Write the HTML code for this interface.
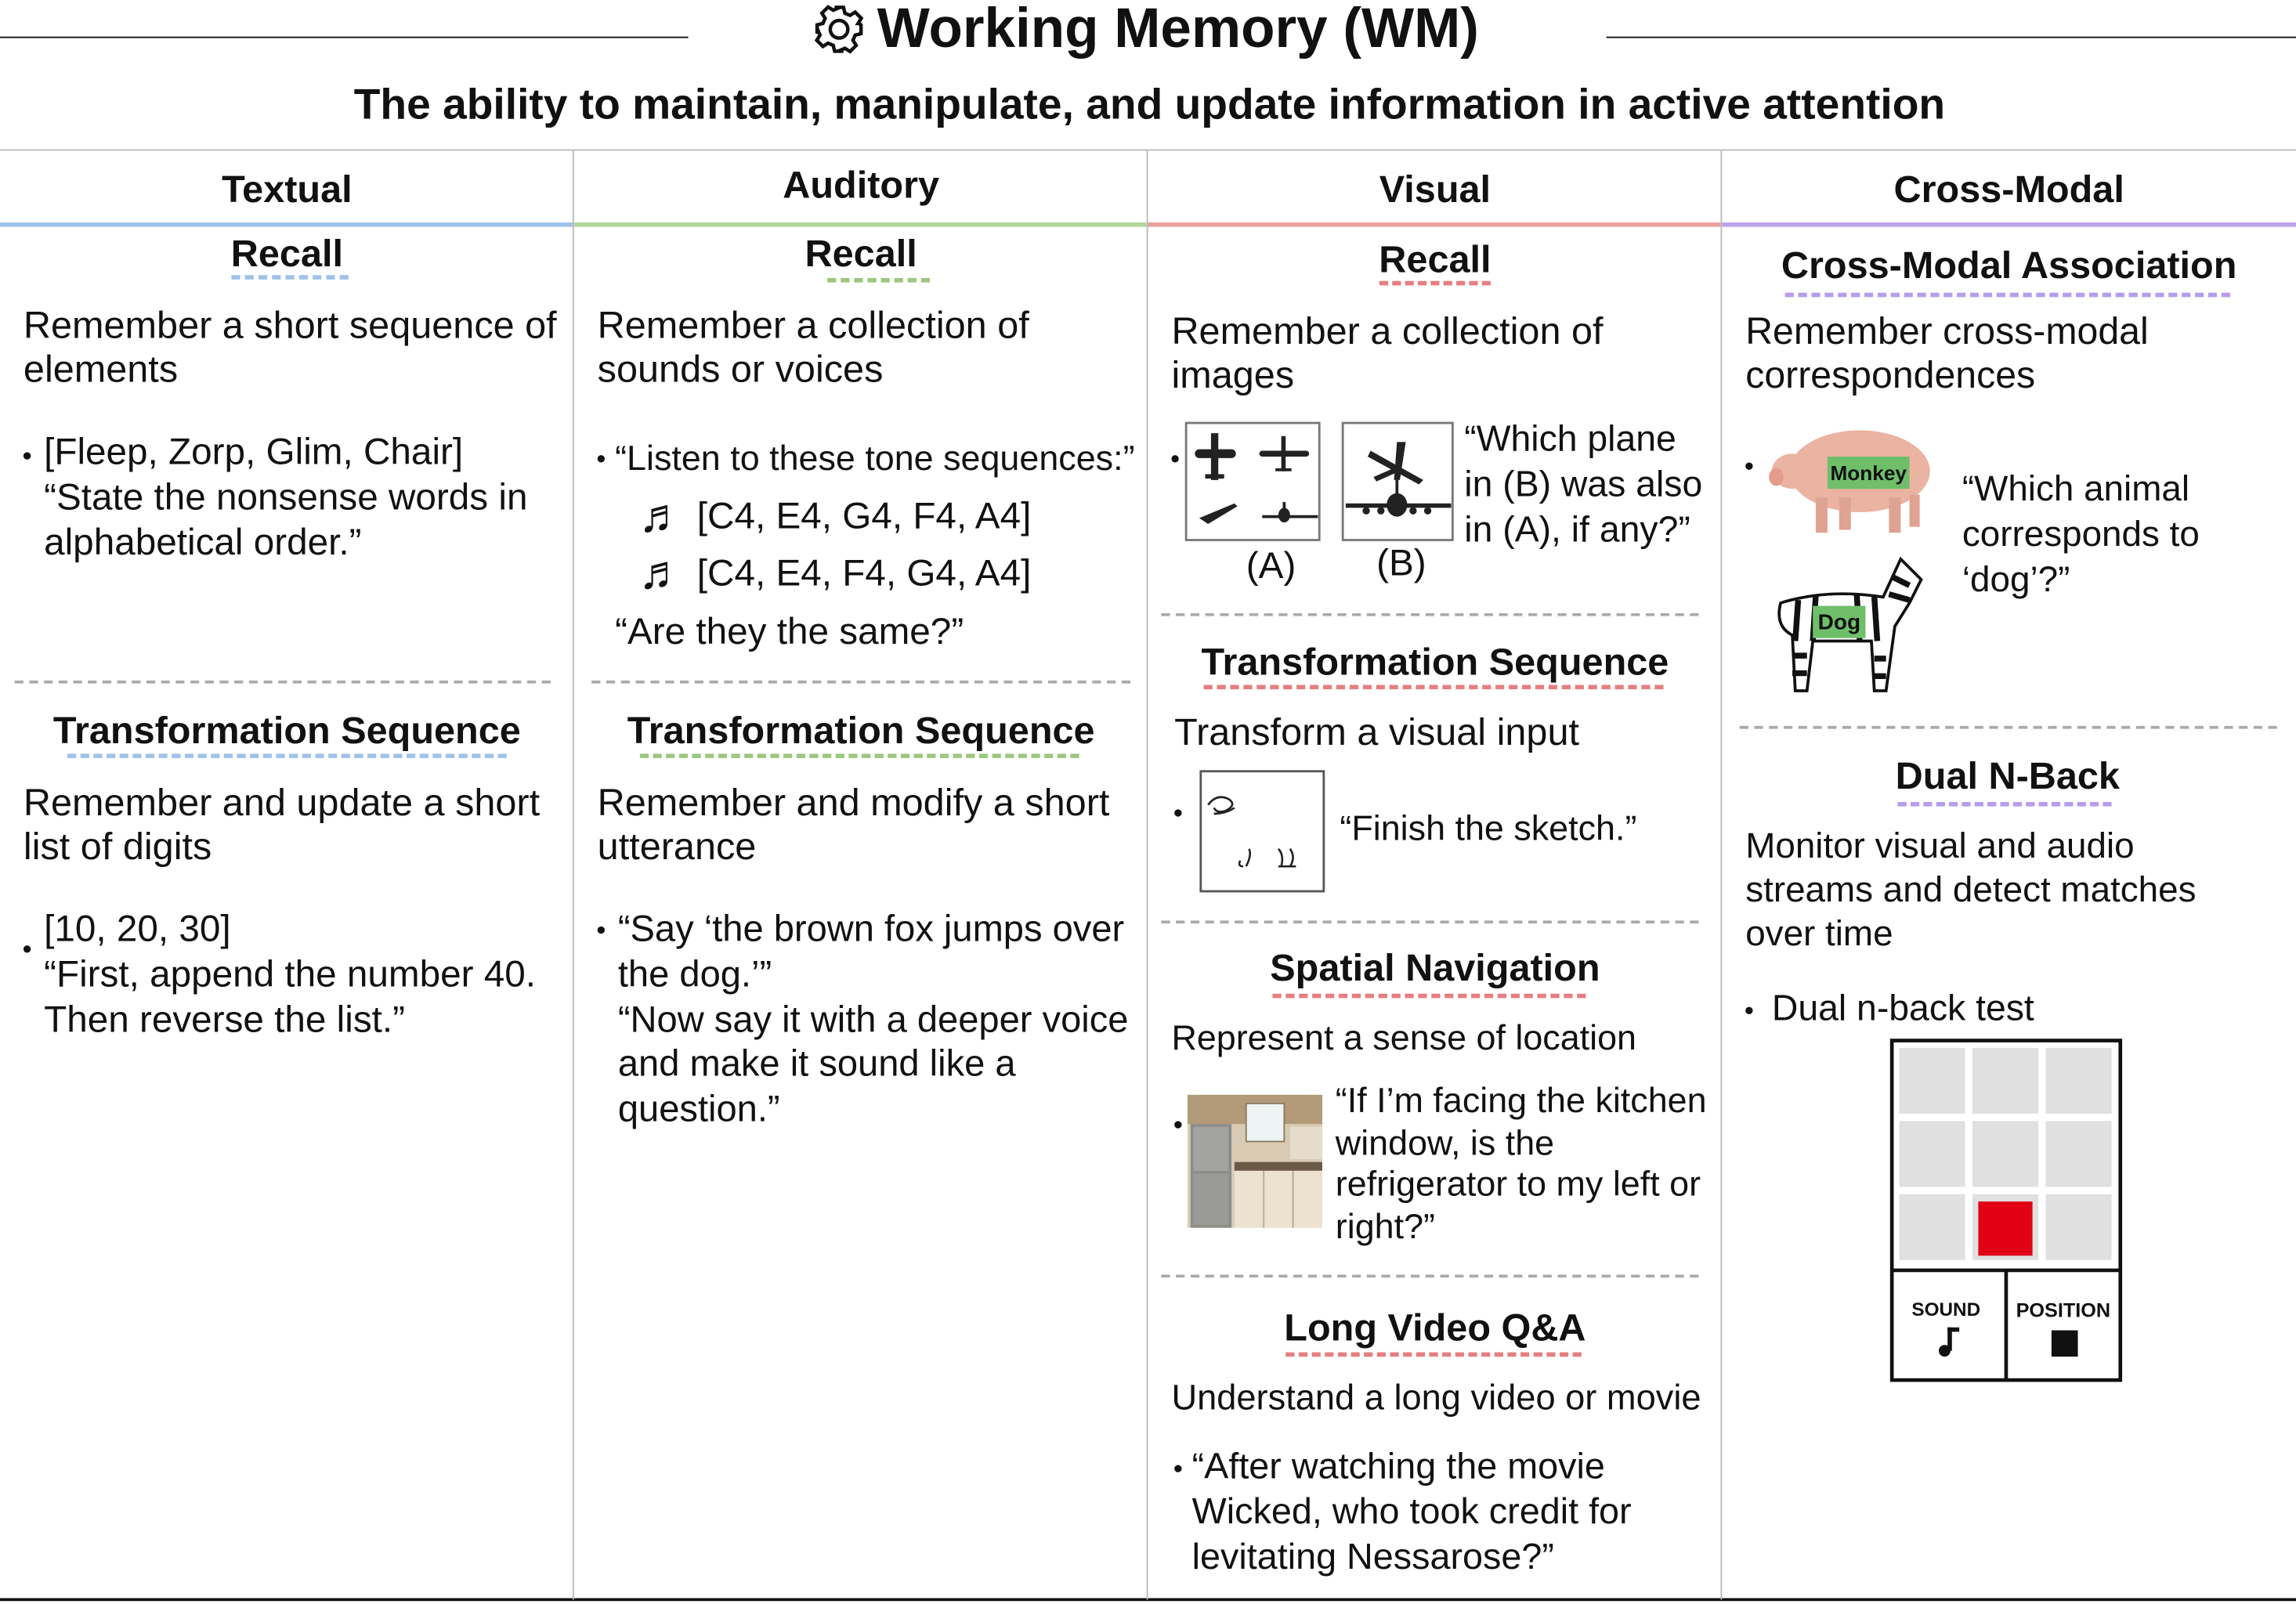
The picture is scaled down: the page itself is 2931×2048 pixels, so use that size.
<!DOCTYPE html>
<html><head><meta charset="utf-8"><style>
html,body{margin:0;padding:0;background:#fff;overflow:hidden}
#root{position:absolute;left:0;top:0;width:1568px;height:1096px;transform:scale(1.8693,1.8686);transform-origin:0 0;font-family:"Liberation Sans",Arial,sans-serif;color:#111}
.a{position:absolute;white-space:nowrap}
.t{font-size:25.5px;line-height:30px}
.h{font-size:26px;font-weight:bold;line-height:30px;transform:translateX(-50%)}
.s{font-size:26px;font-weight:bold;line-height:28px;transform:translateX(-50%)}
.hl{position:absolute;height:0}
.vl{position:absolute;width:0;border-left:1.5px solid #bbb}
.dot{position:absolute;width:5px;height:5px;border-radius:50%;background:#111}
</style></head><body>
<div id="root">
<div class="hl" style="left:0;top:25px;width:470px;border-top:1.5px solid #111"></div>
<div class="hl" style="left:1097px;top:25px;width:471px;border-top:1.5px solid #111"></div>
<svg class="a" style="left:555px;top:2px" width="36" height="36" viewBox="0 0 36 36"><g fill="none" stroke="#111" stroke-width="2.4"><circle cx="18" cy="18" r="6"/><path d="M33 15v6l-4 1-1.5 3.5 2.2 3.5-4.2 4.2-3.5-2.2L18.5 32.5 21 33h-6l-1-4-3.5-1.5-3.5 2.2-4.2-4.2 2.2-3.5L3.5 18.5 3 21v-6l4-1 1.5-3.5-2.2-3.5 4.2-4.2 3.5 2.2L17.5 3.5 15 3h6l1 4 3.5 1.5 3.5-2.2 4.2 4.2-2.2 3.5L31.5 14z"/></g></svg>
<div class="a" style="left:599px;top:-1px;font-size:38px;font-weight:bold;line-height:42px">Working Memory (WM)</div>
<div class="a" style="left:785px;top:55px;font-size:29.5px;font-weight:bold;line-height:34px;transform:translateX(-50%)">The ability to maintain, manipulate, and update information in active attention</div>
<div class="hl" style="left:0;top:102px;width:1568px;border-top:1.5px solid #bbb"></div>
<div class="hl" style="left:0;top:1092px;width:1568px;border-top:2px solid #111"></div>
<div class="vl" style="left:391px;top:103px;height:990px"></div>
<div class="vl" style="left:783px;top:103px;height:990px"></div>
<div class="vl" style="left:1175px;top:103px;height:990px"></div>
<div class="a h" style="left:196px;top:114px">Textual</div>
<div class="a h" style="left:588px;top:111px">Auditory</div>
<div class="a h" style="left:980px;top:114px">Visual</div>
<div class="a h" style="left:1372px;top:114px">Cross-Modal</div>
<div class="hl" style="left:0;top:152px;width:391px;border-top:3px solid #9fc2e9"></div>
<div class="hl" style="left:392px;top:152px;width:391px;border-top:3px solid #b3d69a"></div>
<div class="hl" style="left:784px;top:152px;width:391px;border-top:3px solid #eba0a0"></div>
<div class="hl" style="left:1176px;top:152px;width:392px;border-top:3px solid #bba3ec"></div>

<!-- Column 1 -->
<div class="a s" style="left:196px;top:159px">Recall</div>
<div class="hl" style="left:158px;top:188px;width:80px;border-top:3px dashed #9fc2e9"></div>
<div class="a t" style="left:16px;top:207px;font-size:26px">Remember a short sequence of<br>elements</div>
<div class="dot" style="left:16px;top:309px"></div>
<div class="a t" style="left:30px;top:294px;line-height:31px">[Fleep, Zorp, Glim, Chair]<br>“State the nonsense words in<br>alphabetical order.”</div>
<div class="hl" style="left:10px;top:465px;width:366px;border-top:2px dashed #aaa"></div>
<div class="a s" style="left:196px;top:485px">Transformation Sequence</div>
<div class="hl" style="left:46px;top:515px;width:300px;border-top:3px dashed #9fc2e9"></div>
<div class="a t" style="left:16px;top:533px;font-size:26px">Remember and update a short<br>list of digits</div>
<div class="dot" style="left:16px;top:646px"></div>
<div class="a t" style="left:30px;top:620px;line-height:31px">[10, 20, 30]<br>“First, append the number 40.<br>Then reverse the list.”</div>

<!-- Column 2 -->
<div class="a s" style="left:588px;top:159px">Recall</div>
<div class="hl" style="left:565px;top:190px;width:70px;border-top:3px dashed #9cc77d"></div>
<div class="a t" style="left:408px;top:207px;font-size:26px">Remember a collection of<br>sounds or voices</div>
<div class="dot" style="left:408px;top:311px"></div>
<div class="a t" style="left:420px;top:299px;font-size:24px">“Listen to these tone sequences:”</div>
<div class="a t" style="left:436px;top:338px"><span style="font-size:32px;font-weight:bold;display:inline-block;width:40px;line-height:28px;vertical-align:top">♬</span>[C4, E4, G4, F4, A4]</div>
<div class="a t" style="left:436px;top:377px"><span style="font-size:32px;font-weight:bold;display:inline-block;width:40px;line-height:28px;vertical-align:top">♬</span>[C4, E4, F4, G4, A4]</div>
<div class="a t" style="left:420px;top:417px">“Are they the same?”</div>
<div class="hl" style="left:404px;top:465px;width:368px;border-top:2px dashed #aaa"></div>
<div class="a s" style="left:588px;top:485px">Transformation Sequence</div>
<div class="hl" style="left:437px;top:515px;width:300px;border-top:3px dashed #9cc77d"></div>
<div class="a t" style="left:408px;top:533px;font-size:26px">Remember and modify a short<br>utterance</div>
<div class="dot" style="left:408px;top:633px"></div>
<div class="a t" style="left:422px;top:620px;line-height:30.8px;font-size:25.2px">“Say ‘the brown fox jumps over<br>the dog.’”<br>“Now say it with a deeper voice<br>and make it sound like a<br>question.”</div>

<!-- Column 3 -->
<div class="a s" style="left:980px;top:163px">Recall</div>
<div class="hl" style="left:942px;top:192px;width:76px;border-top:3px dashed #e57f7f"></div>
<div class="a t" style="left:800px;top:211px;font-size:26px">Remember a collection of<br>images</div>
<div class="dot" style="left:800px;top:311px"></div>
<svg class="a" style="left:809px;top:288px" width="94" height="83">
<rect x="1" y="1" width="91" height="80" fill="#fff" stroke="#777" stroke-width="1.5"/>
<g fill="#222"><rect x="18" y="8" width="5" height="32"/><rect x="7" y="19" width="28" height="6" rx="3"/><rect x="14" y="36" width="13" height="3"/>
<rect x="66" y="10" width="3" height="24"/><rect x="51" y="20" width="34" height="4" rx="2"/><rect x="62" y="32" width="11" height="2"/>
<path d="M10 66 L34 56 L36 58 L16 70 Z"/><path d="M53 64 h38 v2 h-38z"/><ellipse cx="68" cy="64" rx="4" ry="5"/><rect x="67" y="55" width="2" height="7"/></g></svg>
<svg class="a" style="left:916px;top:288px" width="78" height="83">
<rect x="1" y="1" width="75" height="80" fill="#fff" stroke="#777" stroke-width="1.5"/>
<g fill="#222"><path d="M20 20 L56 40 L53 43 L18 24 Z"/><path d="M38 14 L44 14 L40 40 L36 40 Z"/><path d="M22 38 L40 30 L42 33 L24 41 Z"/>
<path d="M3 56 h72 v3 h-72z"/><ellipse cx="38" cy="57" rx="7" ry="8"/><rect x="37" y="40" width="2" height="14"/><circle cx="17" cy="61" r="2.5"/><circle cx="27" cy="61" r="2.5"/><circle cx="49" cy="61" r="2.5"/><circle cx="59" cy="61" r="2.5"/></g></svg>
<div class="a t" style="left:851px;top:372px">(A)</div>
<div class="a t" style="left:940px;top:370px">(B)</div>
<div class="a t" style="left:1000px;top:285px;line-height:31px;font-size:24.8px">“Which plane<br>in (B) was also<br>in (A), if any?”</div>
<div class="hl" style="left:793px;top:419px;width:367px;border-top:2px dashed #aaa"></div>
<div class="a s" style="left:980px;top:438px">Transformation Sequence</div>
<div class="hl" style="left:822px;top:468px;width:314px;border-top:3px dashed #e57f7f"></div>
<div class="a t" style="left:802px;top:485px;font-size:26px">Transform a visual input</div>
<div class="dot" style="left:802px;top:553px"></div>
<svg class="a" style="left:819px;top:526px" width="86" height="84">
<rect x="1" y="1" width="84" height="82" fill="#fff" stroke="#555" stroke-width="1.5"/>
<g fill="none" stroke="#222" stroke-width="1.4"><path d="M6 24 q6 -8 14 -4 q6 4 -2 8 q-6 2 -8 -2 M10 30 q8 0 14 -4"/><path d="M32 66 q4 -8 2 -12 M30 66 q-4 0 -2 -4 M56 66 q2 -8 -2 -12 M62 66 q4 -6 0 -12 M54 66 h12"/></g></svg>
<div class="a t" style="left:915px;top:552px;font-size:24px">“Finish the sketch.”</div>
<div class="hl" style="left:793px;top:629px;width:367px;border-top:2px dashed #aaa"></div>
<div class="a s" style="left:980px;top:647px">Spatial Navigation</div>
<div class="hl" style="left:869px;top:679px;width:214px;border-top:3px dashed #e57f7f"></div>
<div class="a t" style="left:800px;top:695px;font-size:24px">Represent a sense of location</div>
<div class="dot" style="left:802px;top:766px"></div>
<svg class="a" style="left:811px;top:748px" width="92" height="91">
<rect width="92" height="91" fill="#d9cbb3"/><rect x="0" y="0" width="92" height="20" fill="#b39a78"/>
<rect x="40" y="6" width="26" height="26" fill="#eef3f3" stroke="#8a7a60"/><rect x="2" y="20" width="28" height="71" fill="#8d8d8a"/><rect x="4" y="22" width="24" height="30" fill="#a3a3a0"/><rect x="4" y="54" width="24" height="35" fill="#9a9a97"/>
<rect x="32" y="46" width="60" height="6" fill="#6b5a48"/><rect x="32" y="52" width="60" height="39" fill="#ece2cf"/><g stroke="#b9a98e"><line x1="52" y1="52" x2="52" y2="91"/><line x1="72" y1="52" x2="72" y2="91"/></g>
<rect x="70" y="22" width="22" height="22" fill="#e5dccb"/></svg>
<div class="a t" style="left:912px;top:739px;line-height:28.7px;font-size:24px">“If I’m facing the kitchen<br>window, is the<br>refrigerator to my left or<br>right?”</div>
<div class="hl" style="left:793px;top:871px;width:367px;border-top:2px dashed #aaa"></div>
<div class="a s" style="left:980px;top:893px">Long Video Q&amp;A</div>
<div class="hl" style="left:878px;top:924px;width:202px;border-top:3px dashed #e57f7f"></div>
<div class="a t" style="left:800px;top:941px;font-size:24.2px">Understand a long video or movie</div>
<div class="dot" style="left:802px;top:1001px"></div>
<div class="a t" style="left:814px;top:987px;line-height:31px;font-size:25px">“After watching the movie<br>Wicked, who took credit for<br>levitating Nessarose?”</div>

<!-- Column 4 -->
<div class="a s" style="left:1372px;top:167px">Cross-Modal Association</div>
<div class="hl" style="left:1219px;top:200px;width:304px;border-top:3px dashed #b69ded"></div>
<div class="a t" style="left:1192px;top:212px;font-size:25.8px">Remember cross-modal<br>correspondences</div>
<div class="dot" style="left:1192px;top:316px"></div>
<svg class="a" style="left:1206px;top:282px" width="116" height="86">
<ellipse cx="64" cy="40" rx="48" ry="28" fill="#eab3a2"/><ellipse cx="18" cy="40" rx="14" ry="12" fill="#eab3a2"/><ellipse cx="7" cy="44" rx="5" ry="6" fill="#e39c8c"/>
<rect x="34" y="58" width="8" height="24" fill="#dfa392"/><rect x="50" y="58" width="8" height="22" fill="#dfa392"/><rect x="84" y="58" width="8" height="24" fill="#dfa392"/><rect x="98" y="56" width="7" height="22" fill="#dfa392"/>
<rect x="42" y="30" width="56" height="22" fill="#6fbf6a"/><text x="70" y="46" font-family="Liberation Sans" font-size="14" font-weight="bold" text-anchor="middle" fill="#111">Monkey</text></svg>
<svg class="a" style="left:1208px;top:372px" width="110" height="105">
<path d="M8 40 Q40 30 78 36 L90 10 L104 24 L96 40 L86 56 L80 100 L72 100 L70 66 L30 66 L26 100 L18 100 L16 62 Q4 56 8 40Z" fill="#fff" stroke="#111" stroke-width="2"/>
<g stroke="#111" stroke-width="4"><line x1="20" y1="38" x2="18" y2="66"/><line x1="32" y1="35" x2="30" y2="66"/><line x1="60" y1="34" x2="62" y2="66"/><line x1="72" y1="36" x2="74" y2="66"/><line x1="84" y1="22" x2="96" y2="28"/><line x1="82" y1="34" x2="96" y2="38"/><line x1="16" y1="76" x2="26" y2="76"/><line x1="16" y1="88" x2="26" y2="88"/><line x1="72" y1="78" x2="80" y2="78"/><line x1="72" y1="90" x2="80" y2="90"/></g>
<rect x="30" y="42" width="36" height="22" fill="#6fbf6a"/><text x="48" y="58" font-family="Liberation Sans" font-size="15" font-weight="bold" text-anchor="middle" fill="#111">Dog</text></svg>
<div class="a t" style="left:1340px;top:319px;line-height:31px;font-size:24.5px">“Which animal<br>corresponds to<br>‘dog’?”</div>
<div class="hl" style="left:1188px;top:496px;width:367px;border-top:2px dashed #aaa"></div>
<div class="a s" style="left:1371px;top:516px">Dual N-Back</div>
<div class="hl" style="left:1296px;top:548px;width:146px;border-top:3px dashed #b69ded"></div>
<div class="a t" style="left:1192px;top:564px;font-size:24.5px">Monitor visual and audio<br>streams and detect matches<br>over time</div>
<div class="dot" style="left:1192px;top:688px"></div>
<div class="a t" style="left:1210px;top:675px;font-size:24.8px">Dual n-back test</div>
<svg class="a" style="left:1290px;top:709px" width="161" height="237">
<rect x="2" y="2" width="156" height="232" fill="#fff" stroke="#111" stroke-width="2.5"/>
<line x1="2" y1="159" x2="158" y2="159" stroke="#111" stroke-width="2.5"/><line x1="80" y1="159" x2="80" y2="234" stroke="#111" stroke-width="2.5"/>
<g fill="#e0e0e0"><rect x="7" y="7" width="45" height="45"/><rect x="57" y="7" width="45" height="45"/><rect x="107" y="7" width="45" height="45"/>
<rect x="7" y="57" width="45" height="45"/><rect x="57" y="57" width="45" height="45"/><rect x="107" y="57" width="45" height="45"/>
<rect x="7" y="107" width="45" height="45"/><rect x="57" y="107" width="45" height="45"/><rect x="107" y="107" width="45" height="45"/></g>
<rect x="61" y="112" width="37" height="37" fill="#e00016"/>
<text x="39" y="190" font-family="Liberation Sans" font-size="13" font-weight="bold" text-anchor="middle" fill="#111">SOUND</text>
<text x="119" y="191" font-family="Liberation Sans" font-size="13.5" font-weight="bold" text-anchor="middle" fill="#111">POSITION</text>
<g fill="#111"><rect x="40" y="198" width="3" height="16"/><rect x="40" y="198" width="8" height="3"/><circle cx="38" cy="214" r="4"/></g>
<rect x="111" y="200" width="18" height="18" fill="#111"/></svg>
</div>
</body></html>
